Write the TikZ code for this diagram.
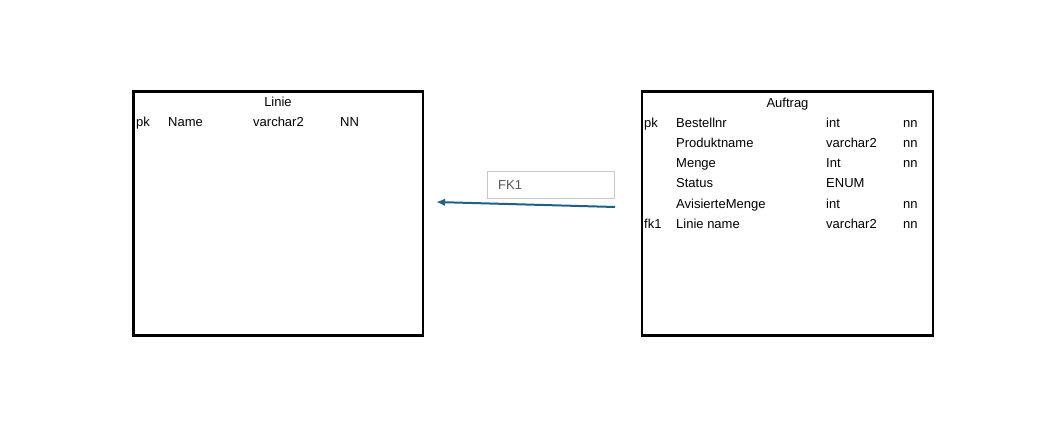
\documentclass[tikz,border=0pt]{standalone}
\usepackage{fontspec}
\setmainfont{Liberation Sans}
\usetikzlibrary{arrows.meta}
\definecolor{arrowblue}{HTML}{1F6083}
\definecolor{fkgray}{HTML}{595959}
\definecolor{fkborder}{HTML}{C8C8C8}
\begin{document}
\begin{tikzpicture}[x=1pt,y=-1pt,
  tablebox/.style={draw=black,line width=2.5pt,inner sep=0pt},
  cell/.style={anchor=base west,inner sep=0pt,font=\fontsize{13}{15}\selectfont,text=black},
  title/.style={anchor=base,inner sep=0pt,font=\fontsize{13}{15}\selectfont,text=black},
  fkbox/.style={draw=fkborder,line width=1pt,inner sep=0pt},
  fktext/.style={anchor=base west,inner sep=0pt,font=\fontsize{13}{15}\selectfont,text=fkgray},
  fkarrow/.style={draw=arrowblue,line width=2pt,-{Latex[length=9pt,width=7.5pt]}}
]
\useasboundingbox (0,0) rectangle (1048,446);
\fill[white] (0,0) rectangle (1048,446);

% Linie table
\draw[tablebox] (133.5,91.5) rectangle (423,335.7);
\node[title] (linietitle) at (278,106.7) {Linie};
\node[cell] (liniepk) at (136,126.7) {pk};
\node[cell] (liniename) at (168,126.7) {Name};
\node[cell] (linietype) at (253,126.7) {varchar2};
\node[cell] (linienn) at (340,126.7) {NN};

% Auftrag table
\draw[tablebox] (642,91.5) rectangle (933,335.5);
\node[title] (auftragtitle) at (787.5,107.5) {Auftrag};
\node[cell] (apk) at (644,127.3) {pk};
\node[cell] (a1) at (676,127.3) {Bestellnr};
\node[cell] (a1t) at (826,127.3) {int};
\node[cell] (a1n) at (903,127.3) {nn};
\node[cell] (a2) at (676,147.5) {Produktname};
\node[cell] (a2t) at (826,147.5) {varchar2};
\node[cell] (a2n) at (903,147.5) {nn};
\node[cell] (a3) at (676,167.5) {Menge};
\node[cell] (a3t) at (826,167.5) {Int};
\node[cell] (a3n) at (903,167.5) {nn};
\node[cell] (a4) at (676,187.7) {Status};
\node[cell] (a4t) at (826,187.7) {ENUM};
\node[cell] (a5) at (676,208) {AvisierteMenge};
\node[cell] (a5t) at (826,208) {int};
\node[cell] (a5n) at (903,208) {nn};
\node[cell] (afk) at (644,228.3) {fk1};
\node[cell] (a6) at (676,228.3) {Linie name};
\node[cell] (a6t) at (826,228.3) {varchar2};
\node[cell] (a6n) at (903,228.3) {nn};

% FK1 label
\draw[fkbox] (487.7,171.7) rectangle (614.3,198.3);
\node[fktext] (fklabel) at (498,189.3) {FK1};

% connector
\coordinate (arrowstart) at (615,207);
\coordinate (arrowend) at (436,202);
\draw[fkarrow] (arrowstart) -- (arrowend);
\end{tikzpicture}
\end{document}
